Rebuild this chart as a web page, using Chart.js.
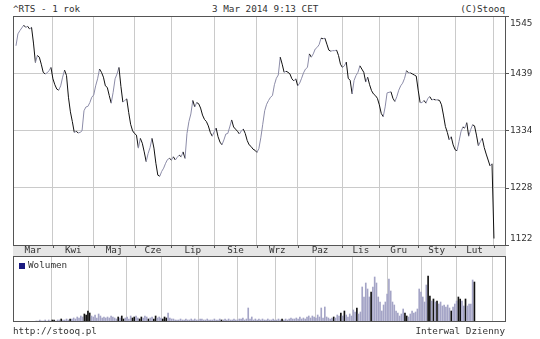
<!DOCTYPE html>
<html>
<head>
<meta charset="utf-8">
<script src="https://cdn.jsdelivr.net/npm/chart.js@4.4.1/dist/chart.umd.min.js"></script>
<style>
  body { margin: 0; background: #fff; }
  #wykres { position: relative; width: 540px; height: 339px; font: 9.3px "DejaVu Sans Mono", monospace; color: #333; }
  #wykres canvas { position: absolute; left: 0; }
  .napis { position: absolute; white-space: pre; line-height: 11px; }
</style>
</head>
<body>
<div id="wykres">
  <div class="napis" style="left:13px; top:3px">^RTS - 1 rok</div>
  <div class="napis" style="left:212px; top:3px">3 Mar 2014 9:13 CET</div>
  <div class="napis" style="right:35px; top:3px">(C)Stooq</div>
  <canvas id="kurs" width="540" height="257" style="top:0"></canvas>
  <canvas id="wolumen" width="540" height="70" style="top:256px"></canvas>
  <div class="napis" style="left:13px; top:325px">http://stooq.pl</div>
  <div class="napis" style="right:35px; top:325px">Interwal Dzienny</div>
</div>
<script>
// miesiące i numer sesji, od której się zaczynają
const miesiace = ['Mar', 'Kwi', 'Maj', 'Cze', 'Lip', 'Sie', 'Wrz', 'Paz', 'Lis', 'Gru', 'Sty', 'Lut'];
const poczatkiMiesiecy = [0, 19, 40, 61, 80, 102, 124, 145, 168, 187, 207, 226, 246];
const poziomy = [1122, 1228, 1334, 1439, 1545];

// kurs zamknięcia ^RTS, sesja po sesji (odczyt z wykresu)
const kursy = [
  1490, 1512, 1518, 1523, 1528, 1524, 1526, 1521, 1524, 1495,
  1459, 1472, 1469, 1456, 1441, 1438, 1440, 1444, 1450, 1429,
  1418, 1410, 1408, 1416, 1432, 1445, 1435, 1395, 1368, 1350,
  1330, 1332, 1329, 1330, 1333, 1370, 1377, 1378, 1385, 1395,
  1399, 1416, 1429, 1447, 1441, 1432, 1416, 1413, 1398, 1384,
  1404, 1429, 1438, 1450, 1415, 1386, 1389, 1392, 1367, 1345,
  1333, 1328, 1325, 1301, 1319, 1310, 1294, 1276, 1291, 1302,
  1319, 1301, 1273, 1251, 1249, 1258, 1264, 1273, 1280, 1282,
  1279, 1285, 1279, 1284, 1288, 1285, 1294, 1282, 1328, 1350,
  1364, 1389, 1377, 1385, 1383, 1375, 1362, 1354, 1350, 1342,
  1330, 1323, 1331, 1338, 1322, 1312, 1307, 1316, 1327, 1328,
  1340, 1353, 1340, 1336, 1332, 1327, 1333, 1336, 1328, 1315,
  1307, 1304, 1299, 1297, 1293, 1300, 1320, 1345, 1370, 1382,
  1389, 1395, 1398, 1418, 1430, 1436, 1469, 1456, 1441, 1443,
  1441, 1438, 1429, 1425, 1429, 1416, 1421, 1430, 1440, 1447,
  1450, 1475, 1469, 1475, 1484, 1487, 1492, 1504, 1503, 1504,
  1493, 1482, 1480, 1481, 1481, 1482, 1472, 1456, 1450, 1453,
  1460, 1430, 1426, 1401, 1426, 1435, 1441, 1453, 1447, 1441,
  1423, 1432, 1418, 1407, 1401, 1398, 1393, 1381, 1365, 1359,
  1377, 1403, 1404, 1405, 1393, 1387, 1396, 1408, 1416, 1421,
  1430, 1444, 1440, 1440, 1438, 1436, 1434, 1408, 1385, 1385,
  1389, 1384, 1393, 1396, 1390, 1391, 1390, 1390, 1389, 1381,
  1362, 1341, 1330, 1316, 1322, 1307, 1298, 1296, 1313, 1331,
  1340, 1338, 1348, 1323, 1335, 1344, 1342, 1325, 1305, 1313,
  1319, 1302, 1290, 1279, 1268, 1272, 1134
];

// wolumen (jednostki umowne, odczyt z wykresu)
const wolumen = [
  1, 1, 2, 1, 1, 2, 1, 2, 1, 2,
  2, 1, 2, 2, 3, 2, 2, 3, 2, 3,
  3, 4, 3, 5, 4, 6, 5, 8, 7, 11,
  9, 6, 5, 7, 4, 8, 6, 4, 5, 4,
  5, 4, 6, 5, 4, 3, 5, 4, 6, 3,
  4, 5, 3, 6, 4, 5, 6, 4, 3, 5,
  4, 6, 5, 3, 4, 5, 3, 6, 4, 5,
  4, 3, 5, 4, 9, 4, 3, 3, 2, 2,
  2, 3, 2, 2, 3, 2, 2, 3, 2, 3,
  2, 2, 3, 3, 2, 2, 3, 2, 2, 2,
  3, 2, 2, 3, 2, 2, 3, 2, 3, 2,
  2, 3, 2, 2, 3, 3, 4, 2, 3, 14,
  3, 5, 2, 3, 2, 3, 2, 3, 2, 2,
  3, 2, 2, 3, 2, 2, 3, 2, 3, 2,
  3, 2, 3, 4, 3, 3, 4, 3, 5, 3,
  4, 3, 5, 6, 4, 6, 5, 4, 7, 5,
  14, 4, 15, 5, 4, 3, 4, 5, 4, 7,
  6, 9, 6, 11, 7, 5, 8, 6, 12, 10,
  14, 8, 10, 35, 25, 39, 33, 25, 30, 35,
  45, 39, 25, 20, 11, 17, 20, 28, 43, 31,
  20, 17, 11, 9, 6, 8, 13, 9, 6, 5,
  8, 11, 9, 10, 13, 33, 30, 25, 20, 37,
  46, 26, 21, 23, 20, 21, 18, 20, 16, 17,
  15, 17, 14, 11, 15, 18, 21, 25, 23, 21,
  16, 23, 16, 18, 18, 42, 40
];

const SPADEK = '#111111';
const WZROST = '#8c8ca8';
const SLUPEK = '#a4a4c6';
const SIATKA = '#cacaca';
const RAMKA = '#555555';
const CZCIONKA = '9.3px "DejaVu Sans Mono", monospace';

// sesje z wyraźnym spadkiem (ponad 1%) mają czarny słupek wolumenu
const duzySpadek = i => i > 0 && kursy[i] < kursy[i - 1] * 0.99;

function osX() {
  return {
    type: 'linear',
    min: -1.54,
    max: 252.2,
    afterBuildTicks: s => { s.ticks = poczatkiMiesiecy.slice(1).map(v => ({ value: v })); },
    grid: { color: SIATKA, drawTicks: false },
    border: { display: false },
    ticks: { display: false }
  };
}

// ramka, pasek z miesiącami i opisy osi ceny
const oprawaKursu = {
  id: 'oprawaKursu',
  afterDraw(chart) {
    const { ctx, chartArea: a, scales: { x, y } } = chart;
    ctx.save();
    ctx.fillStyle = '#e6e6e6';
    ctx.fillRect(a.left, a.bottom, a.right - a.left, chart.height - a.bottom);
    ctx.strokeStyle = RAMKA;
    ctx.lineWidth = 1;
    ctx.strokeRect(a.left + 0.5, a.top + 0.5, a.right - a.left - 1, a.bottom - a.top);
    ctx.beginPath();
    poczatkiMiesiecy.slice(1).forEach(v => {
      const px = Math.round(x.getPixelForValue(v)) + 0.5;
      ctx.moveTo(px, a.bottom);
      ctx.lineTo(px, a.bottom + 3);
    });
    poziomy.forEach(v => {
      const py = Math.round(y.getPixelForValue(v)) + 0.5;
      ctx.moveTo(a.right, py);
      ctx.lineTo(a.right + 3, py);
    });
    ctx.stroke();

    ctx.font = CZCIONKA;
    ctx.fillStyle = '#333';
    ctx.textBaseline = 'middle';
    ctx.textAlign = 'center';
    const srodekPaska = (a.bottom + chart.height) / 2;
    miesiace.forEach((m, i) => {
      const od = i === 0 ? a.left : x.getPixelForValue(poczatkiMiesiecy[i]);
      const doo = x.getPixelForValue(poczatkiMiesiecy[i + 1]);
      ctx.fillText(m, (od + doo) / 2, srodekPaska);
    });
    ctx.textAlign = 'left';
    poziomy.forEach(v => {
      const py = Math.min(Math.max(y.getPixelForValue(v), a.top + 8), a.bottom - 6);
      ctx.fillText(String(v), a.right + 4, py);
    });
    ctx.restore();
  }
};

new Chart(document.getElementById('kurs'), {
  type: 'line',
  data: {
    datasets: [{
      data: kursy.map((v, i) => ({ x: i, y: v })),
      borderWidth: 1,
      borderColor: WZROST,
      pointRadius: 0,
      tension: 0,
      segment: { borderColor: c => c.p1.parsed.y < c.p0.parsed.y ? SPADEK : WZROST }
    }]
  },
  options: {
    responsive: false,
    animation: false,
    devicePixelRatio: 1,
    layout: { padding: { left: 13, top: 16, right: 0, bottom: 0 } },
    plugins: { legend: { display: false }, tooltip: { enabled: false } },
    scales: {
      x: Object.assign(osX(), { afterFit: s => { s.height = 12; } }),
      y: {
        position: 'right',
        min: 1122,
        max: 1545,
        afterBuildTicks: s => { s.ticks = poziomy.map(v => ({ value: v })); },
        afterFit: s => { s.width = 34; },
        grid: { color: SIATKA, drawTicks: false },
        border: { display: false },
        ticks: { display: false }
      }
    }
  },
  plugins: [oprawaKursu]
});

// ramka i legenda panelu wolumenu
const oprawaWolumenu = {
  id: 'oprawaWolumenu',
  afterDraw(chart) {
    const { ctx, chartArea: a } = chart;
    ctx.save();
    ctx.strokeStyle = RAMKA;
    ctx.lineWidth = 1;
    ctx.strokeRect(a.left + 0.5, a.top + 0.5, a.right - a.left - 1, a.bottom - a.top - 1);
    ctx.fillStyle = '#1a1a80';
    ctx.fillRect(a.left + 6, a.top + 7, 6, 6);
    ctx.font = CZCIONKA;
    ctx.fillStyle = '#333';
    ctx.textBaseline = 'middle';
    ctx.fillText('Wolumen', a.left + 15, a.top + 10);
    ctx.restore();
  }
};

new Chart(document.getElementById('wolumen'), {
  type: 'bar',
  data: {
    datasets: [{
      data: wolumen.map((v, i) => ({ x: i, y: v })),
      barThickness: 1,
      backgroundColor: wolumen.map((v, i) => duzySpadek(i) ? SPADEK : SLUPEK)
    }]
  },
  options: {
    responsive: false,
    animation: false,
    devicePixelRatio: 1,
    layout: { padding: { left: 13, top: 0, right: 0, bottom: 4 } },
    plugins: { legend: { display: false }, tooltip: { enabled: false } },
    scales: {
      x: Object.assign(osX(), { afterFit: s => { s.height = 0; } }),
      y: {
        position: 'right',
        min: 0,
        max: 66,
        afterFit: s => { s.width = 34; },
        grid: { display: false },
        border: { display: false },
        ticks: { display: false }
      }
    }
  },
  plugins: [oprawaWolumenu]
});
</script>
</body>
</html>
